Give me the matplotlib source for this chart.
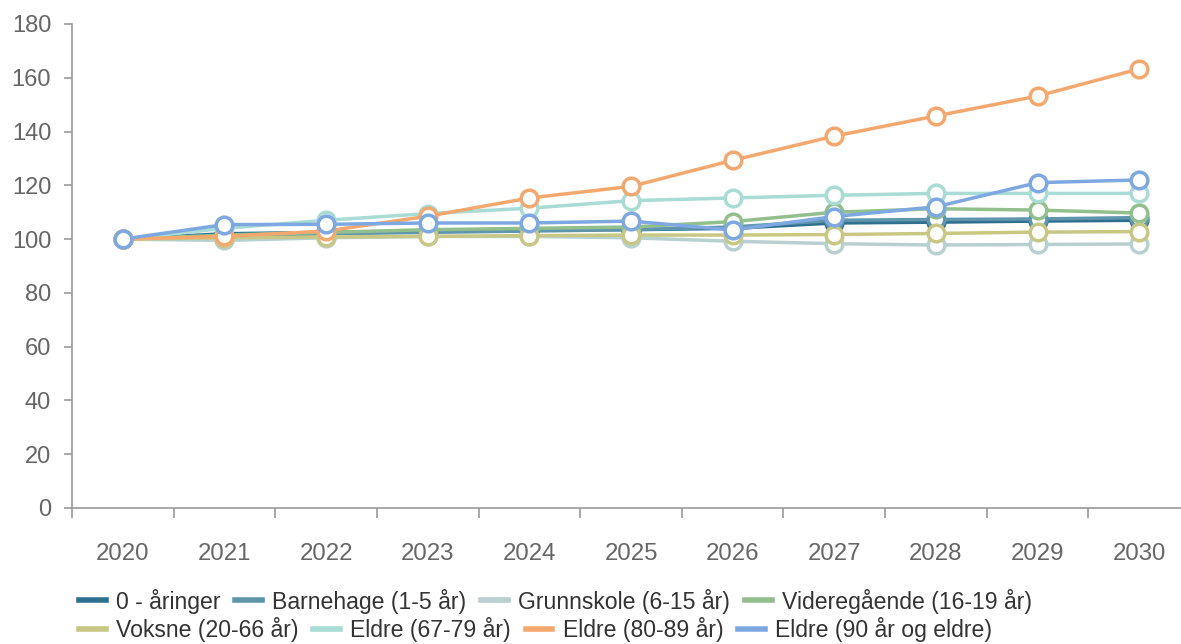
import numpy as np
import matplotlib
matplotlib.use("Agg")
import matplotlib.pyplot as plt
from matplotlib.lines import Line2D

plt.rcParams["font.family"] = ["Liberation Sans", "DejaVu Sans"]

years = ["2020", "2021", "2022", "2023", "2024", "2025", "2026", "2027", "2028", "2029", "2030"]

null_aaringer = [100, 102, 102.5, 103, 103.5, 103.5, 104, 106, 106.3, 106.7, 107]
barnehage = [100, 101, 102, 102.5, 103, 103.5, 104.5, 107, 107.3, 107.5, 108]
grunnskole = [100, 99.5, 100.5, 101, 101, 100.5, 99.2, 98.3, 97.8, 98, 98.2]
videregaende = [100, 101.5, 102.5, 103.5, 104, 104.5, 106.5, 110, 111.3, 110.8, 109.7]
voksne = [100, 100.5, 100.8, 101, 101.3, 101.5, 101.5, 101.7, 102.1, 102.6, 102.8]
eldre_67_79 = [100, 104, 107, 109.5, 111.5, 114.3, 115.3, 116.3, 117, 117, 117]
eldre_80_89 = [100, 101, 103, 108.5, 115.3, 119.6, 129.3, 138.3, 145.8, 153.2, 163.3]
eldre_90 = [100, 105.4, 105.5, 106, 106, 106.7, 103.4, 108.4, 112, 121, 122]

series = [
    ("0 - åringer", null_aaringer, "#2f6f8f"),
    ("Barnehage (1-5 år)", barnehage, "#5f96ad"),
    ("Grunnskole (6-15 år)", grunnskole, "#b8d0d0"),
    ("Videregående (16-19 år)", videregaende, "#92c08c"),
    ("Voksne (20-66 år)", voksne, "#c8c884"),
    ("Eldre (67-79 år)", eldre_67_79, "#a8dcd4"),
    ("Eldre (80-89 år)", eldre_80_89, "#f5a86e"),
    ("Eldre (90 år og eldre)", eldre_90, "#7ea8e2"),
]

fig = plt.figure(figsize=(11.81, 6.44), dpi=100)
ax = fig.add_axes([72 / 1181, 1 - 508 / 644, 1118 / 1181, 484 / 644])

x = np.arange(len(years))
for i, (name, vals, col) in enumerate(series):
    ax.plot(x, vals, color=col, lw=2.5, marker="o", markersize=12,
            markerfacecolor="white", markeredgecolor=col, markeredgewidth=2.5,
            zorder=3 + i, clip_on=False)

ax.set_ylim(0, 180)
ax.set_yticks(np.arange(0, 181, 20))
ax.set_xlim(-0.5, len(years) - 0.5)
ax.set_xticks(x, years)
ax.set_xticks(np.arange(-0.5, len(years), 1), minor=True)

for s in ["top", "right"]:
    ax.spines[s].set_visible(False)
for s in ["left", "bottom"]:
    ax.spines[s].set_color("#9a9a9a")
    ax.spines[s].set_linewidth(1.2)

ax.tick_params(axis="x", which="major", length=0, pad=25.5, labelsize=17.3, labelcolor="#666666")
ax.tick_params(axis="x", which="minor", length=7, width=1.2, color="#9a9a9a")
ax.tick_params(axis="y", length=6, width=1.2, color="#9a9a9a", pad=9,
               labelsize=17, labelcolor="#666666")

handles = [Line2D([], [], color=col, lw=4) for _, _, col in series]
labels = [name for name, _, _ in series]
legend_kw = dict(frameon=False, fontsize=16.6, handlelength=1.15, handletextpad=0.45,
                 columnspacing=0.65, borderpad=0, borderaxespad=0, labelcolor="#333333")
fig.legend(handles[:4], labels[:4], ncol=4, loc="center left",
           bbox_to_anchor=(79 / 1181, 1 - 601 / 644), **legend_kw)
fig.legend(handles[4:], labels[4:], ncol=4, loc="center left",
           bbox_to_anchor=(79 / 1181, 1 - 630 / 644), **legend_kw)

fig.savefig("out.png", dpi=100)
